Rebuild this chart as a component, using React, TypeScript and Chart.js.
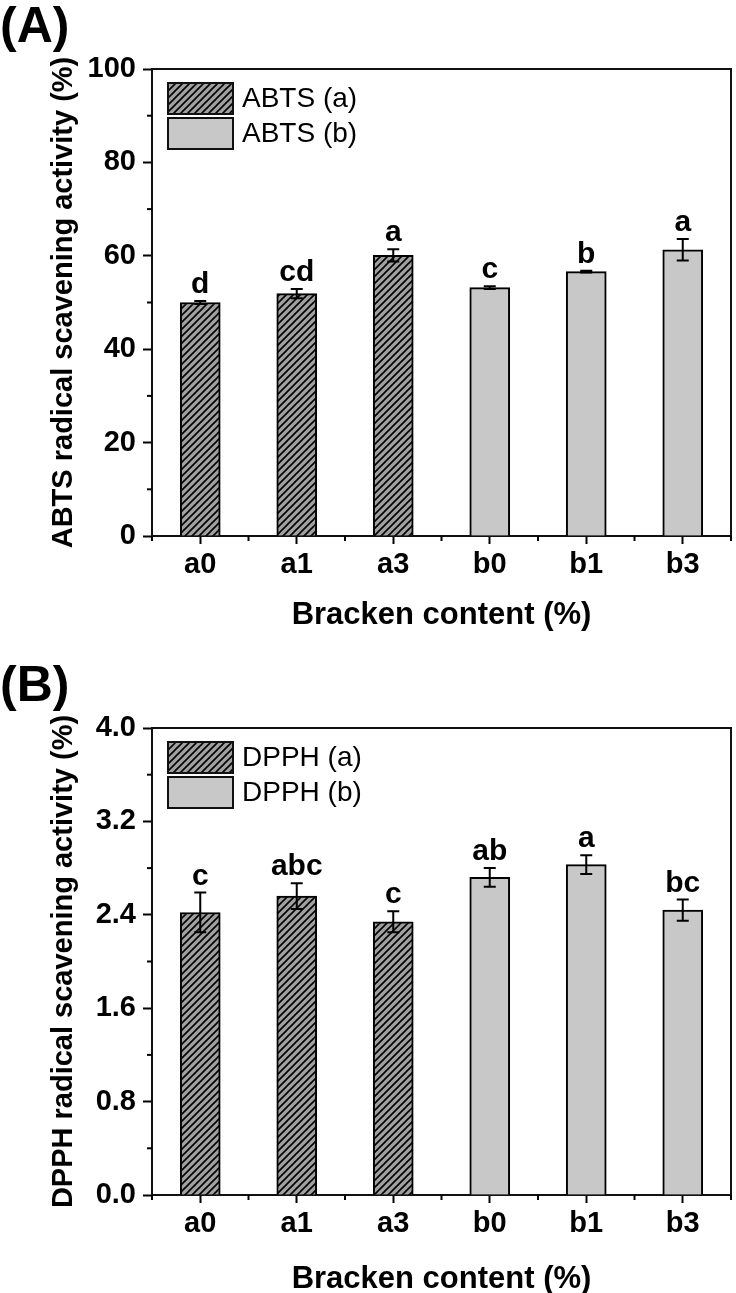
import React, { useEffect, useRef } from 'react';
import { Chart, registerables } from 'chart.js';

Chart.register(...registerables);

// ---- data ----
const categories = ['a0', 'a1', 'a3', 'b0', 'b1', 'b3'];
const groupOf = ['a', 'a', 'a', 'b', 'b', 'b'];

const abtsValues = [50.0, 51.9, 60.1, 53.2, 56.6, 61.3];
const abtsErrors = [0.3, 1.0, 1.3, 0.3, 0.2, 2.3];
const abtsLetters = ['d', 'cd', 'a', 'c', 'b', 'a'];
const abtsLegend = ['ABTS (a)', 'ABTS (b)'];
const abtsTicks = { max: 100, step: 20, decimals: 0 };

const dpphValues = [2.42, 2.56, 2.34, 2.72, 2.83, 2.44];
const dpphErrors = [0.17, 0.11, 0.09, 0.08, 0.08, 0.09];
const dpphLetters = ['c', 'abc', 'c', 'ab', 'a', 'bc'];
const dpphLegend = ['DPPH (a)', 'DPPH (b)'];
const dpphTicks = { max: 4.0, step: 0.8, decimals: 1 };

const FONT = "'Liberation Sans', Arial, Helvetica, sans-serif";
const PLOT_TOP = 69;
const PLOT_BOTTOM = 536;
const PLOT_LEFT = 152;
const PLOT_RIGHT = 731;

function makeHatch(): HTMLCanvasElement {
  const c = document.createElement('canvas');
  const p = 7;
  c.width = p;
  c.height = p;
  const g = c.getContext('2d')!;
  g.fillStyle = '#a0a0a0';
  g.fillRect(0, 0, p, p);
  g.strokeStyle = '#000';
  g.lineWidth = 1.6;
  g.beginPath();
  g.moveTo(-2, p + 2);
  g.lineTo(p + 2, -2);
  g.moveTo(-2, 2);
  g.lineTo(2, -2);
  g.moveTo(p - 2, p + 2);
  g.lineTo(p + 2, p - 2);
  g.stroke();
  return c;
}

type PanelProps = {
  top: number;
  height: number;
  panelLabel: string;
  yTitle: string;
  values: number[];
  errors: number[];
  letters: string[];
  legendNames: string[];
  ticks: { max: number; step: number; decimals: number };
  xTitleY: number;
};

function Panel(props: PanelProps) {
  const ref = useRef<HTMLCanvasElement>(null);
  useEffect(() => {
    const canvas = ref.current!;
    const ctx = canvas.getContext('2d')!;
    const hatch = ctx.createPattern(makeHatch(), 'repeat')!;
    const { values, errors, letters, legendNames, ticks, height } = props;
    const groups = ['a', 'b'];
    const fills: any[] = [hatch, '#c8c8c8'];

    const datasets = legendNames.map((name, gi) => ({
      label: name,
      data: values.map((v, i) => (groupOf[i] === groups[gi] ? v : null)),
      backgroundColor: fills[gi],
      borderColor: '#000',
      borderWidth: 2,
      barThickness: 40,
      grouped: false,
    }));

    const decor = {
      id: 'decor',
      afterDraw(chart: any) {
        const c = chart.ctx as CanvasRenderingContext2D;
        const area = chart.chartArea;
        const ys = chart.scales.y;
        c.save();
        c.strokeStyle = '#111';
        c.lineWidth = 2;
        c.beginPath();
        c.moveTo(area.left, area.top);
        c.lineTo(area.right, area.top);
        c.lineTo(area.right, area.bottom);
        c.stroke();
        c.strokeStyle = '#000';
        for (let v = ticks.step / 2; v < ticks.max; v += ticks.step) {
          const y = ys.getPixelForValue(v);
          c.beginPath();
          c.moveTo(area.left - 5, y);
          c.lineTo(area.left, y);
          c.stroke();
        }
        const n = categories.length;
        for (let i = 0; i <= n; i++) {
          const x = area.left + ((area.right - area.left) * i) / n;
          c.beginPath();
          c.moveTo(x, area.bottom);
          c.lineTo(x, area.bottom + 5);
          c.stroke();
        }
        chart.data.datasets.forEach((ds: any, di: number) => {
          const meta = chart.getDatasetMeta(di);
          meta.data.forEach((el: any, i: number) => {
            if (ds.data[i] == null) return;
            const v = values[i];
            const e = errors[i];
            const yt = ys.getPixelForValue(v + e);
            const yb = ys.getPixelForValue(v - e);
            const x = el.x;
            c.strokeStyle = '#000';
            c.lineWidth = 2;
            c.beginPath();
            c.moveTo(x, yt);
            c.lineTo(x, yb);
            c.moveTo(x - 6, yt);
            c.lineTo(x + 6, yt);
            c.moveTo(x - 6, yb);
            c.lineTo(x + 6, yb);
            c.stroke();
            c.fillStyle = '#000';
            c.font = `bold 30px ${FONT}`;
            c.textAlign = 'center';
            c.textBaseline = 'alphabetic';
            c.fillText(letters[i], x, yt - 8);
          });
        });
        const bx = 168;
        const bw = 65;
        const bh = 31;
        legendNames.forEach((name, gi) => {
          const by = area.top + 14 + gi * 35;
          c.fillStyle = fills[gi];
          c.fillRect(bx, by, bw, bh);
          c.strokeStyle = '#111';
          c.lineWidth = 2;
          c.strokeRect(bx, by, bw, bh);
          c.fillStyle = '#000';
          c.font = `28px ${FONT}`;
          c.textAlign = 'left';
          c.textBaseline = 'middle';
          c.fillText(name, bx + bw + 9, by + bh / 2 + 1);
        });
        c.fillStyle = '#000';
        c.font = `bold 50px ${FONT}`;
        c.textAlign = 'left';
        c.textBaseline = 'middle';
        c.fillText(props.panelLabel, 0, 28);
        c.save();
        c.translate(64, (area.top + area.bottom) / 2);
        c.rotate(-Math.PI / 2);
        c.font = `bold 29px ${FONT}`;
        c.textAlign = 'center';
        c.textBaseline = 'middle';
        c.fillText(props.yTitle, 0, 0);
        c.restore();
        c.font = `bold 31px ${FONT}`;
        c.textAlign = 'center';
        c.textBaseline = 'middle';
        c.fillText('Bracken content (%)', (area.left + area.right) / 2, props.xTitleY);
        c.restore();
      },
    };

    const chart = new Chart(ctx, {
      type: 'bar',
      data: { labels: categories, datasets: datasets as any },
      options: {
        responsive: false,
        animation: false,
        layout: { padding: { top: PLOT_TOP, right: 736 - PLOT_RIGHT, left: 0, bottom: 0 } },
        plugins: { legend: { display: false }, tooltip: { enabled: false } },
        scales: {
          x: {
            grid: {
              display: true,
              drawOnChartArea: false,
              drawTicks: true,
              tickLength: 8,
              tickWidth: 2,
              tickColor: '#000',
              offset: false,
            },
            border: { display: true, color: '#111', width: 2 },
            ticks: {
              color: '#000',
              font: { family: FONT, size: 29, weight: 'bold' },
              padding: 4,
              maxRotation: 0,
            },
            afterFit: (s: any) => {
              s.height = height - PLOT_BOTTOM;
            },
          },
          y: {
            min: 0,
            max: ticks.max,
            grid: {
              drawOnChartArea: false,
              drawTicks: true,
              tickLength: 9,
              tickWidth: 2,
              tickColor: '#000',
            },
            border: { display: true, color: '#111', width: 2 },
            ticks: {
              stepSize: ticks.step,
              color: '#000',
              font: { family: FONT, size: 29, weight: 'bold' },
              padding: 7,
              callback: (v: any) => Number(v).toFixed(ticks.decimals),
            },
            afterFit: (s: any) => {
              s.width = PLOT_LEFT;
            },
          },
        },
      } as any,
      plugins: [decor],
    });
    return () => chart.destroy();
  }, []);

  return (
    <canvas
      ref={ref}
      width={736}
      height={props.height}
      style={{ position: 'absolute', left: 0, top: props.top, width: 736, height: props.height }}
    />
  );
}

export default function App() {
  return (
    <div style={{ position: 'absolute', left: 0, top: 0, width: 736, height: 1293, background: '#fff', overflow: 'hidden' }}>
      <Panel
        top={0}
        height={659}
        panelLabel="(A)"
        yTitle="ABTS radical scavening activity (%)"
        values={abtsValues}
        errors={abtsErrors}
        letters={abtsLetters}
        legendNames={abtsLegend}
        ticks={abtsTicks}
        xTitleY={615}
      />
      <Panel
        top={659}
        height={634}
        panelLabel="(B)"
        yTitle="DPPH radical scavening activity (%)"
        values={dpphValues}
        errors={dpphErrors}
        letters={dpphLetters}
        legendNames={dpphLegend}
        ticks={dpphTicks}
        xTitleY={620}
      />
    </div>
  );
}
